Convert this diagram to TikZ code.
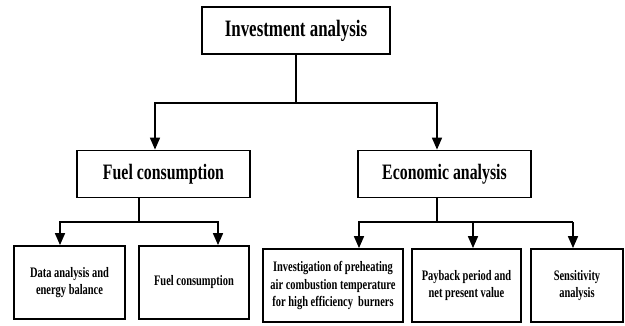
\documentclass[tikz,border=0pt]{standalone}
\usepackage{fontspec}
\setmainfont{Liberation Serif}[FakeStretch=0.72]
\usetikzlibrary{arrows.meta}
\begin{document}
\begin{tikzpicture}[x=1pt,y=-1pt,
  box/.style={draw,line width=1.8pt,fill=white,inner sep=0pt,align=center,font=\bfseries},
  conn/.style={line width=1.6pt},
  arr/.style={line width=1.6pt,-{Triangle[width=10pt,length=12pt]}}]
\useasboundingbox (0,0) rectangle (625,325);
% level 1
\node[box,minimum width=188pt,minimum height=47pt,font=\bfseries\fontsize{23.5}{26}\selectfont] (top) at (296,30.5) {Investment analysis};
% level 2
\node[box,minimum width=173pt,minimum height=47pt,font=\bfseries\fontsize{22}{25}\selectfont] (fuel) at (163.5,174) {Fuel consumption};
\node[box,minimum width=173pt,minimum height=47pt,font=\bfseries\fontsize{22}{25}\selectfont] (econ) at (444.5,174) {Economic analysis};
% level 3
\tikzset{leaf/.style={box,minimum height=73pt,font=\bfseries\fontsize{14.5}{17.5}\selectfont}}
\node[leaf,minimum width=111pt] (b1) at (69.5,282.5) {Data analysis and\\energy balance};
\node[leaf,minimum width=110pt] (b2) at (194,282.5) {Fuel consumption};
\node[leaf,minimum width=140pt] (b3) at (333,285.5) {Investigation of preheating\\air combustion temperature\\for high efficiency\ \ burners};
\node[leaf,minimum width=109pt] (b4) at (466.5,285.5) {Payback period and\\net present value};
\node[leaf,minimum width=92pt] (b5) at (577,285.5) {Sensitivity\\analysis};
% connectors level 1 -> 2
\coordinate (j1) at (296,103);
\draw[conn] (top.south) -- (j1);
\draw[arr] (j1) -| (155,0 |- fuel.north);
\draw[arr] (j1) -| (437,0 |- econ.north);
% connectors fuel -> leaves
\coordinate (f0) at (139,0 |- fuel.south);
\coordinate (j2) at (139,222);
\draw[conn] (f0) -- (j2);
\draw[arr] (j2) -| (60,0 |- b1.north);
\draw[arr] (j2) -| (218,0 |- b2.north);
% connectors econ -> leaves
\coordinate (e0) at (437,0 |- econ.south);
\coordinate (j3) at (437,222);
\draw[conn] (e0) -- (j3);
\draw[arr] (j3) -| (359,0 |- b3.north);
\draw[conn] (j3) -- (573,222);
\draw[arr] (473,222) -- (473,0 |- b4.north);
\draw[arr] (573,222) -- (573,0 |- b5.north);
\end{tikzpicture}
\end{document}
